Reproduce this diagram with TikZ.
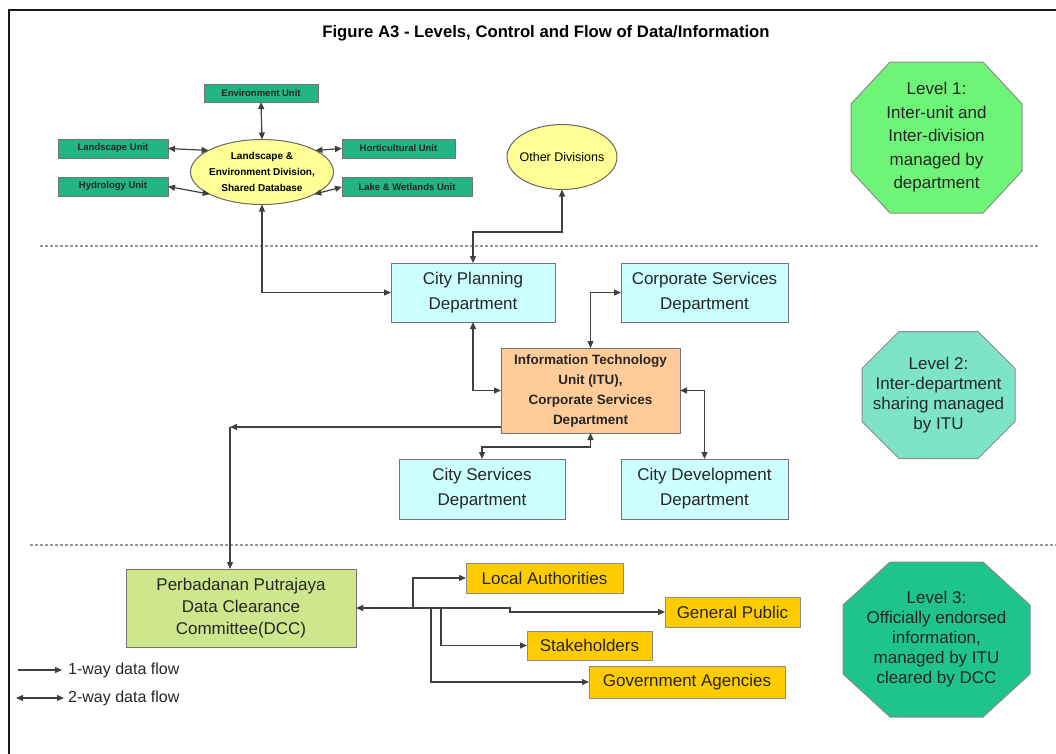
\documentclass[tikz,border=0pt]{standalone}
\usepackage{fontspec}
\setmainfont{Liberation Sans}
\usetikzlibrary{arrows.meta,calc,shapes.geometric,backgrounds}

\definecolor{unitfill}{RGB}{34,180,130}
\definecolor{ellfill}{RGB}{255,255,150}
\definecolor{deptfill}{RGB}{204,255,255}
\definecolor{itufill}{RGB}{255,204,153}
\definecolor{dccfill}{RGB}{206,230,140}
\definecolor{goldfill}{RGB}{255,204,0}
\definecolor{lvone}{RGB}{110,245,120}
\definecolor{lvtwo}{RGB}{125,228,200}
\definecolor{lvthree}{RGB}{30,196,140}

% octagon outline around a (borderless) rectangular node
\newcommand\octagonframe[5]{%
  \path[fill=#4,draw=#5,line width=1pt]
    ($(#1.north west)+(#2,0)$) -- ($(#1.north east)+(-#2,0)$) --
    ($(#1.north east)+(0,#3)$) -- ($(#1.south east)+(0,-#3)$) --
    ($(#1.south east)+(-#2,0)$) -- ($(#1.south west)+(#2,0)$) --
    ($(#1.south west)+(0,-#3)$) -- ($(#1.north west)+(0,#3)$) -- cycle;}

\begin{document}
\begin{tikzpicture}[x=1pt,y=-1pt,
  >={Triangle[length=7pt,width=6pt]},
  link/.style={draw=black!75,line width=1.2pt},
  sep/.style={draw=black!40,line width=1.3pt,dash pattern=on 3pt off 2pt},
  unitbox/.style={draw=black!55,fill=unitfill,line width=1pt,inner sep=0pt,outer sep=0pt,
    font=\fontsize{9.5}{10}\selectfont\bfseries,text=black!85},
  dbell/.style={ellipse,draw=black!60,fill=ellfill,line width=1pt,inner sep=0pt,outer sep=0pt,align=center},
  deptbox/.style={draw=black!55,fill=deptfill,line width=1pt,inner sep=0pt,outer sep=0pt,align=center,
    font=\fontsize{17}{25}\selectfont,text=black!85},
  goldbox/.style={draw=black!45,fill=goldfill,line width=1pt,inner sep=0pt,outer sep=0pt,
    font=\fontsize{17}{19}\selectfont,text=black!85},
  levelnode/.style={inner sep=0pt,outer sep=0pt,align=center,text=black!85},
]
\useasboundingbox (0,0) rectangle (1056,753);

% frame
\draw[line width=2.2pt,black!90] (9,760) -- (9,10) -- (1060,10);

% title
\node (title) at (546,33) {\fontsize{16.7}{19}\selectfont\bfseries Figure A3 - Levels, Control and Flow of Data/Information};

% level separators
\draw[sep] (40,246) -- (1040,246);
\draw[sep] (30,545) -- (1056,545);

% ---------- level 1 ----------
\node[unitbox,minimum width=114pt,minimum height=18pt] (envu) at (261,93) {Environment Unit};
\node[unitbox,minimum width=110pt,minimum height=19pt] (landu) at (113,148.5) {Landscape Unit};
\node[unitbox,minimum width=110pt,minimum height=19pt] (hydu) at (113,186.5) {Hydrology Unit};
\node[unitbox,minimum width=113pt,minimum height=19pt] (hortu) at (398.5,148.5) {Horticultural Unit};
\node[unitbox,minimum width=130pt,minimum height=19pt] (lakeu) at (407,187) {Lake \& Wetlands Unit};

\node[dbell,minimum width=143pt,minimum height=65pt,inner xsep=-6pt,font=\fontsize{10}{16}\selectfont\bfseries]
  (led) at (262,172) {Landscape \&\\Environment Division,\\Shared Database};
\node[dbell,minimum width=100pt,minimum height=65pt,inner xsep=-3.5pt,font=\fontsize{12.5}{15}\selectfont]
  (other) at (562,157) {Other Divisions};

\draw[link,<->] (envu.south) -- (led.north);
\draw[link,<->] (landu.east) -- (led.158);
\draw[link,<->] (hortu.west) -- (led.22);
\draw[link,<->] (hydu.east) -- (led.203);
\draw[link,<->] (lakeu.west) -- (led.337);

% ---------- level 2 ----------
\node[deptbox,minimum width=164pt,minimum height=59pt] (cpd) at (473,292.5) {City Planning\\Department};
\node[deptbox,minimum width=167pt,minimum height=59pt] (csd) at (704.5,292.5) {Corporate Services\\Department};
\node[deptbox,fill=itufill,minimum width=179pt,minimum height=85pt,font=\fontsize{13.5}{20}\selectfont\bfseries]
  (itu) at (590.5,390.5) {Information Technology\\Unit (ITU),\\Corporate Services\\Department};
\node[deptbox,minimum width=166pt,minimum height=60pt] (csvd) at (482,489) {City Services\\Department};
\node[deptbox,minimum width=167pt,minimum height=60pt] (cdd) at (704.5,489) {City Development\\Department};

\draw[link,<->] (led.south) |- (cpd.west);
\draw[link,<->] (cpd.north) -- ++(0,-31) -| (other.south);
\draw[link,<->] (cpd.south) |- (itu.west);
\draw[link,<->] (itu.north) |- (csd.west);
\draw[link,<->] (itu.east) -| (cdd.north);
\draw[link,<->] (itu.south) -- ++(0,14) -| (csvd.north);

% ---------- level 3 ----------
\node[deptbox,fill=dccfill,minimum width=230pt,minimum height=78pt,font=\fontsize{17}{22}\selectfont]
  (dcc) at (241,608) {Perbadanan Putrajaya\\Data Clearance\\Committee(DCC)};
\node[goldbox,minimum width=157pt,minimum height=30pt] (la) at (544.5,578) {Local Authorities};
\node[goldbox,minimum width=135pt,minimum height=30pt] (gp) at (732.5,612) {General Public};
\node[goldbox,minimum width=125pt,minimum height=29pt] (sh) at (589.5,645.5) {Stakeholders};
\node[goldbox,minimum width=196pt,minimum height=32pt] (ga) at (687,682) {Government Agencies};

\coordinate (bend) at (230,427);
\draw[link,->] ($(itu.south west)+(0,-6)$) -- (bend);
\draw[link,->] (bend) -- (bend |- dcc.north);

\coordinate (jog) at (510,608);
\draw[link,<->] (dcc.east) -- (jog) |- (gp.west);
\coordinate (bra) at (413,608);
\coordinate (brg) at (431,608);
\coordinate (brs) at (441,608);
\draw[link,->] (bra) |- (la.west);
\draw[link,->] (brg) |- (ga.west);
\draw[link,->] (brs) |- (sh.west);

% ---------- level markers ----------
\node[levelnode,minimum width=171pt,minimum height=151pt,font=\fontsize{17}{23.5}\selectfont]
  (lv1) at (936.5,137.5) {Level 1:\\Inter-unit and\\Inter-division\\managed by\\department};
\node[levelnode,minimum width=153pt,minimum height=127pt,font=\fontsize{17}{20}\selectfont]
  (lv2) at (938.5,395) {Level 2:\\Inter-department\\sharing managed\\by ITU};
\node[levelnode,minimum width=187pt,minimum height=155pt,font=\fontsize{17}{20}\selectfont]
  (lv3) at (936.5,639.5) {Level 3:\\Officially endorsed\\information,\\managed by ITU\\cleared by DCC};
\begin{scope}[on background layer]
  \octagonframe{lv1}{39}{42}{lvone}{black!45}
  \octagonframe{lv2}{37}{37}{lvtwo}{black!45}
  \octagonframe{lv3}{47}{43}{lvthree}{black!45}
\end{scope}

% ---------- legend ----------
\coordinate (k1a) at (18,670);
\coordinate (k1b) at (62,670);
\coordinate (k2a) at (16,698);
\coordinate (k2b) at (64,698);
\draw[link,->] (k1a) -- (k1b);
\draw[link,<->] (k2a) -- (k2b);
\node[anchor=west,inner sep=0pt,font=\fontsize{16}{18}\selectfont,text=black!85] (k1t) at (68,670) {1-way data flow};
\node[anchor=west,inner sep=0pt,font=\fontsize{16}{18}\selectfont,text=black!85] (k2t) at (68,698) {2-way data flow};
\end{tikzpicture}
\end{document}
